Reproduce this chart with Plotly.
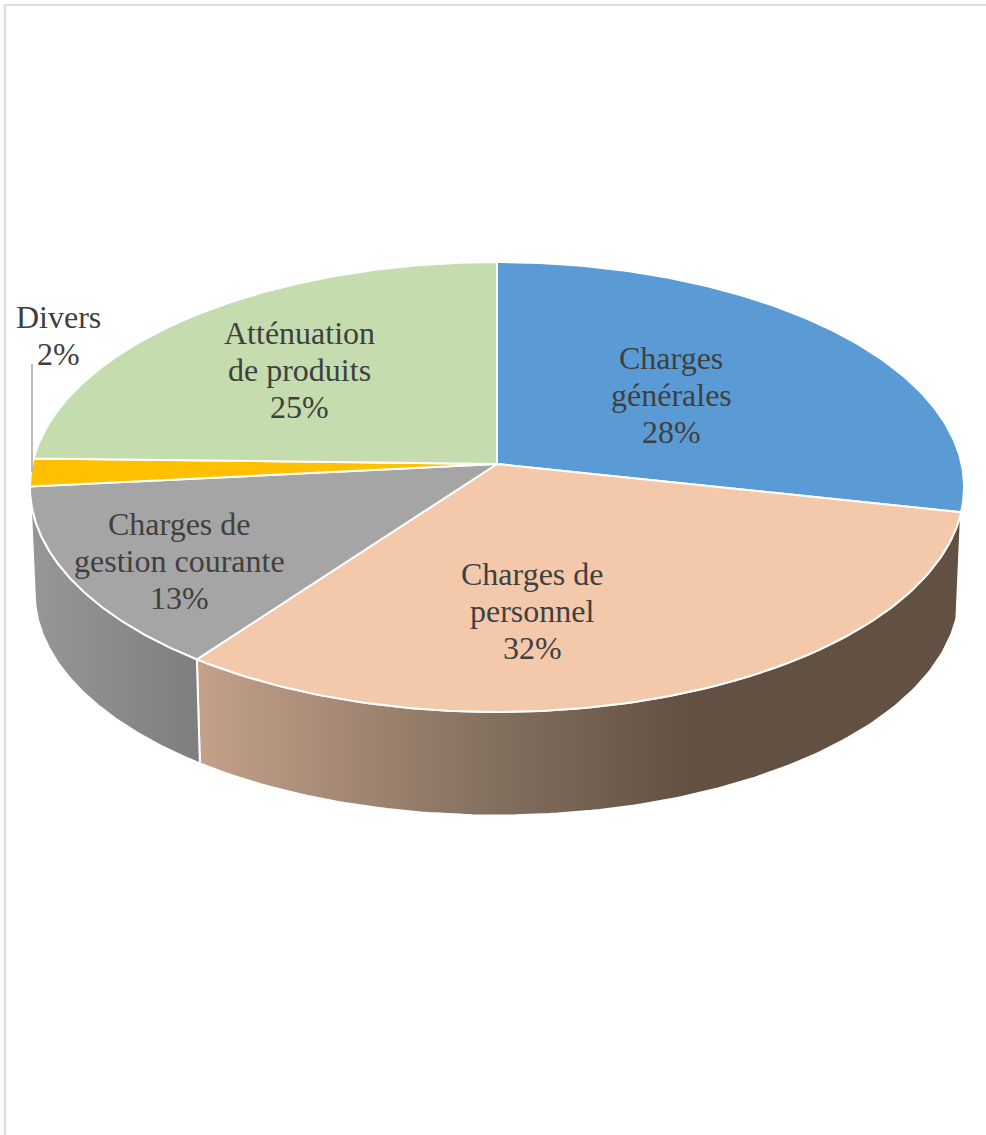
import numpy as np
import plotly.graph_objects as go

# Data
categories = ["Charges<br>générales", "Charges de<br>personnel", "Charges de<br>gestion courante", "Divers", "Atténuation<br>de produits"]
values = [28.4, 31.7, 13.3, 2.0, 24.6]

# Styles
top_colors = ["#5b9bd5", "#f4c9ab", "#a5a5a5", "#ffc000", "#c5dcae"]
wall_scales = [None,
               [[0, "#c4a18a"], [0.6, "#84705f"], [1, "#625043"]],
               [[0, "#979797"], [1, "#7e7e7e"]],
               None, None]
wall_spans = [None, (196, 690), (30, 200), None, None]
label_pos = [(671, 395), (532, 611), (179, 561), (58, 335), (299, 370)]
FONT = "Liberation Serif"
TEXT = "#404040"
LINE_STEP = 37

# Projection of the pie disc
CX, CY, A, B, K = 497.0, 464.0, 464.6, 222.6, 0.1022
DEPTH, SHRINK = 106.0, 0.99


def project(deg, radius=1.0, floor=False):
    t = np.radians(deg)
    X, Y = radius * np.sin(t), -radius * np.cos(t)
    d = 1 - K * Y
    s = SHRINK if floor else 1.0
    return CX + s * A * X / d, CY + (DEPTH if floor else 0) + s * B * Y / d


fig = go.Figure()
edges = np.concatenate([[0], np.cumsum(values)]) / np.sum(values) * 360

# side walls
for i in range(len(values)):
    if wall_scales[i] is None:
        continue
    a = np.linspace(edges[i], edges[i + 1], 120)
    x1, y1 = project(a)
    x2, y2 = project(a[::-1], floor=True)
    fig.add_trace(go.Scatter(
        x=np.r_[x1, x2, x1[0]], y=np.r_[y1, y2, y1[0]], mode="lines", fill="toself",
        line=dict(color="white", width=2),
        fillgradient=dict(type="horizontal", colorscale=wall_scales[i],
                          start=wall_spans[i][0], stop=wall_spans[i][1]),
        hoverinfo="skip", showlegend=False))

# top faces
for i in range(len(values)):
    a = np.linspace(edges[i], edges[i + 1], 160)
    x, y = project(a)
    fig.add_trace(go.Scatter(
        x=np.r_[CX, x, CX], y=np.r_[CY, y, CY], mode="lines", fill="toself",
        fillcolor=top_colors[i], line=dict(color="white", width=2),
        hoverinfo="skip", showlegend=False))

total = sum(values)
annotations = []
for c, v, (px, py) in zip(categories, values, label_pos):
    lines = c.split("<br>") + [f"{round(v / total * 100)}%"]
    for j, line in enumerate(lines):
        annotations.append(dict(
            x=px, y=py + (j - (len(lines) - 1) / 2) * LINE_STEP, xref="x", yref="y",
            showarrow=False, align="center", text=line,
            font=dict(family=FONT, size=32, color=TEXT)))

shapes = [
    dict(type="line", xref="x", yref="y", x0=32, x1=32, y0=364, y1=472,
         line=dict(color="#a6a6a6", width=1.5)),
    dict(type="line", xref="x", yref="y", x0=5, x1=5, y0=4, y1=1135,
         line=dict(color="#e0e0e0", width=2.5)),
    dict(type="line", xref="x", yref="y", x0=4, x1=986, y0=5, y1=5,
         line=dict(color="#dcdcdc", width=2)),
]

fig.update_layout(
    width=986, height=1135, margin=dict(l=0, r=0, t=0, b=0),
    paper_bgcolor="white", plot_bgcolor="white", showlegend=False,
    xaxis=dict(range=[0, 986], visible=False, fixedrange=True),
    yaxis=dict(range=[1135, 0], visible=False, fixedrange=True),
    annotations=annotations, shapes=shapes,
)
fig.write_html("out.html", post_script="document.body.style.margin='0';document.documentElement.style.overflow='hidden';",
               config={"displayModeBar": False})
